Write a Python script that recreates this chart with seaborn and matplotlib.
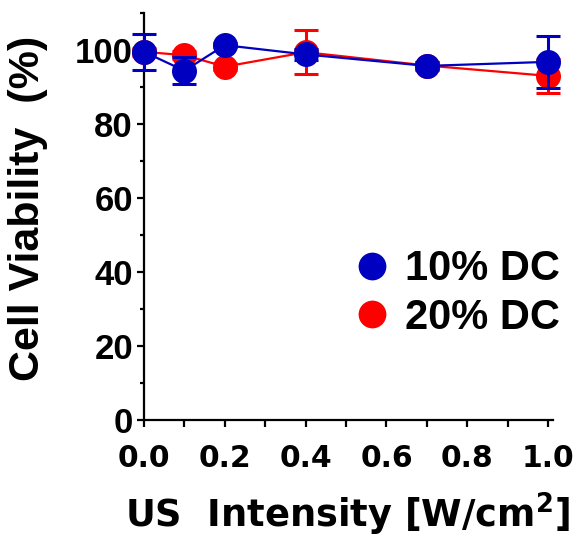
import numpy as np
import pandas as pd
import matplotlib
matplotlib.use("Agg")
import matplotlib.pyplot as plt
import seaborn as sns
from matplotlib.ticker import MultipleLocator
from matplotlib.lines import Line2D

# ---- data ----
intensity = [0.0, 0.1, 0.2, 0.4, 0.7, 1.0]
dc10_mean = [99.5, 94.4, 101.3, 98.8, 95.7, 96.8]
dc10_sd = [4.9, 3.7, 0.5, 1.5, 1.0, 7.0]
dc20_mean = [99.5, 98.6, 95.5, 99.4, 95.8, 93.0]
dc20_sd = [1.0, 1.0, 1.0, 6.0, 1.0, 4.5]
series_labels = ["10% DC", "20% DC"]
colors = {"10% DC": "#0000C0", "20% DC": "#FF0000"}
xticks = [0.0, 0.2, 0.4, 0.6, 0.8, 1.0]
xtick_labels = ["0.0", "0.2", "0.4", "0.6", "0.8", "1.0"]
yticks = [0, 20, 40, 60, 80, 100]

sns.set_theme(style="ticks")
plt.rcParams["font.family"] = ["Liberation Sans", "DejaVu Sans"]
plt.rcParams["font.weight"] = "bold"
plt.rcParams["text.color"] = "black"
plt.rcParams["mathtext.fontset"] = "custom"
plt.rcParams["mathtext.rm"] = "DejaVu Sans:bold"
plt.rcParams["mathtext.bf"] = "DejaVu Sans:bold"

W, H = 581, 546
df = pd.DataFrame({
    "x": intensity * 2,
    "y": dc10_mean + dc20_mean,
    "sd": dc10_sd + dc20_sd,
    "series": [series_labels[0]] * len(intensity) + [series_labels[1]] * len(intensity),
})

fig = plt.figure(figsize=(W / 100, H / 100), dpi=100)
L, R, B, T = 144, 553, 420, 13
ax = fig.add_axes([L / W, 1 - B / H, (R - L) / W, (B - T) / H])

for lab, z in [(series_labels[1], 2), (series_labels[0], 4)]:
    sub = df[df["series"] == lab]
    sns.lineplot(data=sub, x="x", y="y", ax=ax, color=colors[lab], marker="o",
                 markersize=18, markeredgewidth=0, linewidth=1.6,
                 zorder=z, legend=False)
    ax.errorbar(sub["x"], sub["y"], yerr=sub["sd"], fmt="none", ecolor=colors[lab],
                elinewidth=2.2, capsize=8.5, capthick=2.2, zorder=z + 0.5, clip_on=False)

ax.set_xlim(0, 1.012)
ax.set_ylim(0, 110)
ax.set_xticks(xticks)
ax.set_xticklabels(xtick_labels, fontfamily="DejaVu Sans", fontweight="bold", fontsize=21.5,
                   color="black")
ax.set_yticks(yticks)
ax.set_yticklabels([str(v) for v in yticks], fontfamily="Liberation Sans",
                   fontweight="bold", fontsize=25, color="black")
ax.xaxis.set_minor_locator(MultipleLocator(0.1))
ax.yaxis.set_minor_locator(MultipleLocator(10))
for l in ax.lines:
    l.set_clip_on(False)

for s in ["top", "right"]:
    ax.spines[s].set_visible(False)
for s in ["left", "bottom"]:
    ax.spines[s].set_linewidth(1.6)
    ax.spines[s].set_color("black")

ax.tick_params(axis="both", which="major", length=5, width=1.6, colors="black")
ax.tick_params(axis="x", which="major", pad=12)
ax.tick_params(axis="y", which="major", pad=3)
ax.tick_params(axis="x", which="minor", length=5, width=1.6, colors="black")
ax.tick_params(axis="y", which="minor", length=3, width=1.6, colors="black")
ax.set_xlabel("")
ax.set_ylabel("")

fig.text(347.5 / W, 1 - 528 / H, r"US  Intensity [W/cm$^{2}$]", ha="center", va="baseline",
         fontsize=26.5, fontweight="bold", family="DejaVu Sans", color="black")
fig.text(28 / W, 1 - 208 / H, "Cell Viability  (%)", ha="center", va="center",
         rotation=90, fontsize=31, fontweight="bold", family="Liberation Sans", color="black")

handles = [Line2D([], [], color=colors[l], marker="o", linestyle="none",
                  markersize=20, markeredgewidth=0) for l in series_labels]
leg = ax.legend(handles, series_labels, loc="center left",
                bbox_to_anchor=(351 / W, 1 - 293.5 / H), bbox_transform=fig.transFigure,
                frameon=False, prop={"weight": "bold", "size": 30, "family": "Liberation Sans"},
                handletextpad=0.3, labelspacing=0.2, handlelength=1.0, borderpad=0,
                borderaxespad=0, labelcolor="black")

fig.savefig("out.png", dpi=100)
